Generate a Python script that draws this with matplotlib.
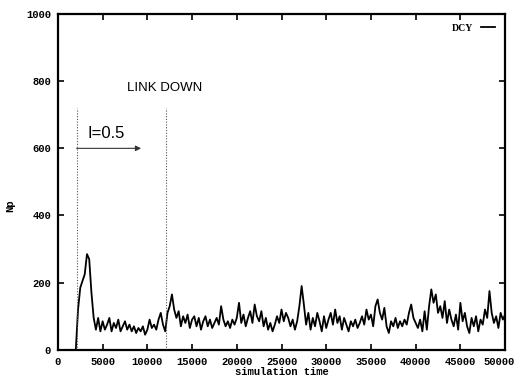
import numpy as np
import matplotlib.pyplot as plt
from matplotlib.transforms import ScaledTranslation

# number of packets (Np) sampled every 250 time units, from t=2000 to t=50000
np_values = [
    0, 120, 185, 205, 225, 285, 270, 170, 95, 60, 95, 55,
    85, 60, 75, 95, 55, 80, 65, 90, 55, 70, 85, 60,
    75, 55, 70, 50, 65, 55, 70, 45, 60, 90, 65, 75,
    60, 90, 110, 75, 55, 110, 130, 165, 120, 95, 115, 70,
    100, 80, 105, 65, 90, 100, 70, 95, 60, 85, 100, 70,
    90, 65, 80, 95, 75, 130, 90, 70, 85, 65, 90, 75,
    95, 140, 80, 105, 70, 95, 115, 80, 135, 100, 85, 115,
    70, 95, 60, 80, 55, 75, 100, 80, 120, 85, 110, 95,
    70, 90, 60, 85, 130, 190, 135, 75, 110, 60, 95, 70,
    110, 85, 55, 100, 65, 90, 110, 75, 120, 80, 100, 60,
    95, 75, 55, 85, 70, 90, 65, 80, 100, 75, 120, 90,
    105, 70, 130, 150, 110, 90, 125, 70, 50, 85, 70, 95,
    65, 85, 70, 90, 75, 110, 135, 95, 80, 65, 90, 55,
    115, 60, 130, 180, 140, 165, 110, 130, 95, 145, 80, 120,
    90, 70, 105, 60, 140, 85, 110, 70, 50, 95, 70, 100,
    55, 90, 75, 120, 95, 175, 110, 80, 100, 65, 110, 90,
    105,
]
t_start, t_step = 2000, 250
sim_time = t_start + t_step * np.arange(len(np_values))

# events marked on the plot
interval_start = 2100
link_down_time = 12100
arrow_end = 9300
marker_top = 720

x_ticks = [0, 5000, 10000, 15000, 20000, 25000, 30000, 35000, 40000, 45000, 50000]
y_ticks = [0, 200, 400, 600, 800, 1000]

mono = {'family': 'Liberation Mono', 'weight': 'bold', 'size': 7.6}

fig = plt.figure(figsize=(5.17, 3.79), dpi=100)
ax = fig.add_axes([0.112, 0.077, 0.865, 0.886])

ax.plot(sim_time, np_values, color='black', lw=1.3, label='DCY')

for xv in (interval_start, link_down_time):
    ax.plot([xv, xv], [0, marker_top], color='#555555', lw=0.8, ls=(0, (1, 1.5)))

ax.annotate('', xy=(arrow_end, 600), xytext=(interval_start, 600),
            arrowprops=dict(arrowstyle='-|>', color='#333333', lw=0.8,
                            mutation_scale=8, shrinkA=0, shrinkB=0))
ax.text(3300, 645, 'I=0.5', family='Liberation Sans', fontsize=12,
        ha='left', va='center')
ax.text(11900, 780, 'LINK DOWN', family='Liberation Sans', fontsize=9.5,
        ha='center', va='center')

ax.set_xlim(0, 50000)
ax.set_ylim(0, 1000)
ax.set_xticks(x_ticks)
ax.set_yticks(y_ticks)
ax.set_xticklabels([str(v) for v in x_ticks], fontdict=mono)
ax.set_yticklabels([str(v) for v in y_ticks], fontdict=mono)
ax.tick_params(direction='in', top=True, right=True, length=4, width=1.2, pad=5)
for s in ax.spines.values():
    s.set_linewidth(1.6)

# keep the last x label inside the figure edge
last = ax.get_xticklabels()[-1]
last.set_transform(last.get_transform() + ScaledTranslation(-4 / 72, 0, fig.dpi_scale_trans))

ax.set_xlabel('simulation time', fontdict=mono, labelpad=0)
ax.set_ylabel('Np', fontdict=mono)
ax.yaxis.set_label_coords(-0.096, 0.43)

leg = ax.legend(loc='upper right', frameon=False, markerfirst=False,
                handlelength=1.5, borderaxespad=0.6,
                prop={'family': 'Liberation Serif', 'weight': 'bold', 'size': 7})

fig.savefig('out.png', dpi=100)
